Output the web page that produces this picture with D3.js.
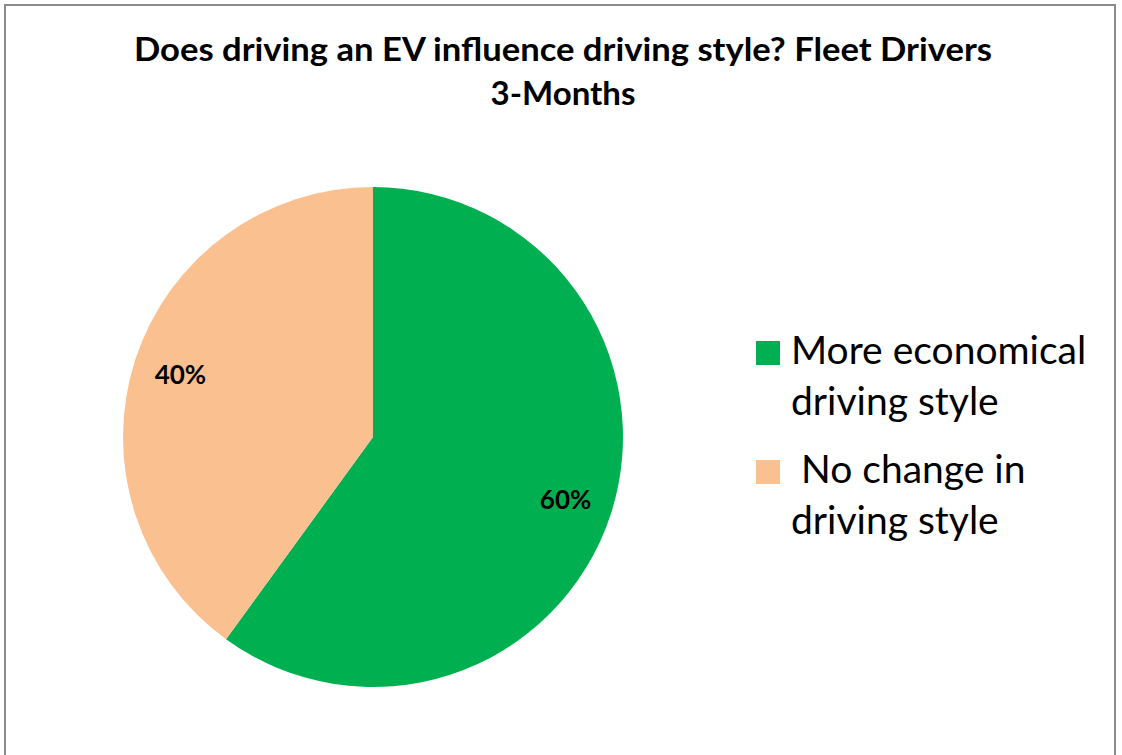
<!DOCTYPE html>
<html>
<head>
<meta charset="utf-8">
<script src="https://cdn.jsdelivr.net/npm/d3@7"></script>
<style>
  html, body { margin: 0; padding: 0; background: #ffffff; }
  svg { display: block; }
  text { font-family: Lato, "Open Sans", sans-serif; fill: #000; }
</style>
</head>
<body>
<svg id="chart" width="1122" height="755"></svg>
<script>
// Survey answers (share of fleet drivers, 3 months in)
const categories = ["More economical driving style", " No change in driving style"];
const shares = [60, 40];
const valueLabels = ["60%", "40%"];
const legendLines = [["More economical", "driving style"], [" No change in", "driving style"]];
const colors = ["#00B050", "#FAC090"];
const titleLines = ["Does driving an EV influence driving style? Fleet Drivers", "3-Months"];

const svg = d3.select("#chart");

// Chart frame
svg.append("rect")
  .attr("x", 5).attr("y", 5)
  .attr("width", 1110).attr("height", 760)
  .attr("fill", "#fff")
  .attr("stroke", "#8c8c8c")
  .attr("stroke-width", 2);

// Title
const title = svg.append("g");
titleLines.forEach((t, i) => {
  title.append("text")
    .attr("x", 563)
    .attr("y", 61 + i * 44)
    .attr("text-anchor", "middle")
    .attr("font-size", 33)
    .attr("font-weight", "bold")
    .attr("textLength", i === 0 ? 858 : null)
    .attr("lengthAdjust", "spacingAndGlyphs")
    .text(t);
});

// Pie
const cx = 373, cy = 437, r = 250;
const pie = d3.pie().sort(null).value(d => d)(shares);
const arc = d3.arc().innerRadius(0).outerRadius(r);
const labelArc = d3.arc().innerRadius(r * 0.81).outerRadius(r * 0.81);

const g = svg.append("g").attr("transform", `translate(${cx},${cy})`);
g.selectAll("path")
  .data(pie)
  .join("path")
  .attr("d", arc)
  .attr("fill", (d, i) => colors[i]);

g.selectAll("text.val")
  .data(pie)
  .join("text")
  .attr("class", "val")
  .attr("transform", d => `translate(${labelArc.centroid(d)})`)
  .attr("text-anchor", "middle")
  .attr("dy", "0.35em")
  .attr("font-size", 26)
  .attr("font-weight", "bold")
  .text((d, i) => valueLabels[i]);

// Legend
const legend = svg.append("g");
const legendY = [341, 460];
categories.forEach((c, i) => {
  const item = legend.append("g");
  item.append("rect")
    .attr("x", 756).attr("y", legendY[i])
    .attr("width", 24).attr("height", 24)
    .attr("fill", colors[i]);
  legendLines[i].forEach((line, j) => {
    item.append("text")
      .attr("x", 791)
      .attr("y", legendY[i] + 23 + j * 51)
      .attr("font-size", 39)
      .style("white-space", "pre")
      .text(line);
  });
});
</script>
</body>
</html>
